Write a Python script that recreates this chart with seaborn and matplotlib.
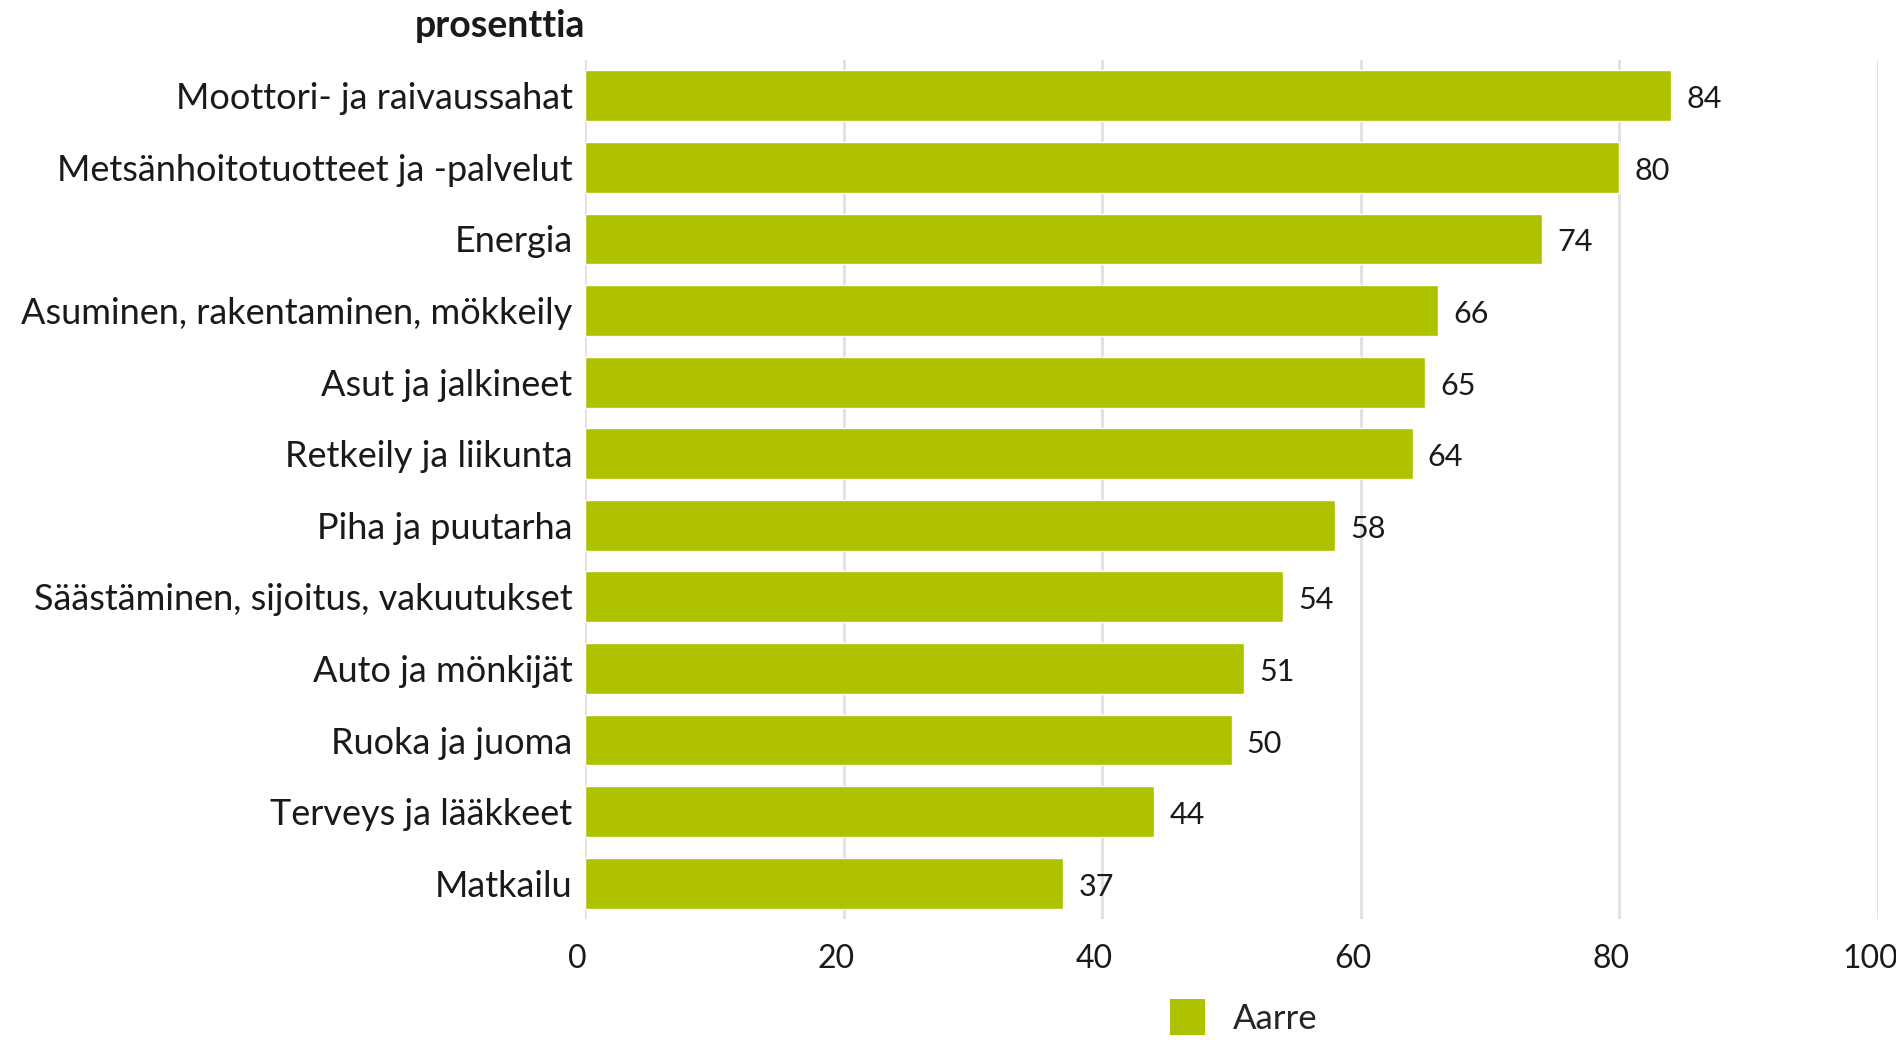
import matplotlib
matplotlib.use("Agg")
import matplotlib.pyplot as plt
import matplotlib.transforms as mtransforms
import seaborn as sns
import pandas as pd
from matplotlib.patches import Patch

categories = [
    "Moottori- ja raivaussahat",
    "Metsänhoitotuotteet ja -palvelut",
    "Energia",
    "Asuminen, rakentaminen, mökkeily",
    "Asut ja jalkineet",
    "Retkeily ja liikunta",
    "Piha ja puutarha",
    "Säästäminen, sijoitus, vakuutukset",
    "Auto ja mönkijät",
    "Ruoka ja juoma",
    "Terveys ja lääkkeet",
    "Matkailu",
]
values = [84, 80, 74, 66, 65, 64, 58, 54, 51, 50, 44, 37]
series_name = "Aarre"
x_ticks = [0, 20, 40, 60, 80, 100]

df = pd.DataFrame({"kategoria": categories, "arvo": values})

sns.set_theme(style="white")
plt.rcParams["font.family"] = ["Lato", "DejaVu Sans"]

color = "#AEC200"
fig = plt.figure(figsize=(18.96, 10.40), dpi=100)
ax = fig.add_axes([0.3086, 0.1163, 0.6819, 0.826])

sns.barplot(data=df, y="kategoria", x="arvo", orient="h", color=color,
            saturation=1, width=0.71, ax=ax, zorder=3)

ax.set_xlim(0, 100)
ax.set_ylim(len(categories) - 0.5, -0.5)
ax.set_xticks(x_ticks)
ax.set_xticklabels([str(t) for t in x_ticks], fontsize=23, color="#1a1a1a")
ax.tick_params(axis="x", length=0, pad=18)
ax.tick_params(axis="y", length=0, pad=9, labelsize=26, labelcolor="#1a1a1a")
offset = mtransforms.ScaledTranslation(-8 / 100, 0, fig.dpi_scale_trans)
for lab in ax.get_xticklabels():
    lab.set_transform(lab.get_transform() + offset)
ax.set_xlabel("")
ax.set_ylabel("")
ax.xaxis.grid(True, color="#e0e0e0", linewidth=2, zorder=0)
ax.yaxis.grid(False)
for s in ax.spines.values():
    s.set_visible(False)

for c in ax.containers:
    labs = ax.bar_label(c, fmt="%d", padding=11, fontsize=22, color="#1a1a1a")
    for t in labs:
        x0, y0 = t.xyann
        t.xyann = (x0, y0 - 2.5)

fig.text(0.3086, 0.975, "prosenttia", ha="right", va="center",
         fontsize=27, fontweight="bold", color="#1a1a1a")

handles = [Patch(facecolor=color, edgecolor="none", label=series_name)]
fig.legend(handles=handles, loc="center", bbox_to_anchor=(0.656, 0.022),
           frameon=False, fontsize=25, handlelength=1.0, handleheight=1.2,
           handletextpad=0.8, borderpad=0.2)

fig.savefig("out.png", dpi=100)
